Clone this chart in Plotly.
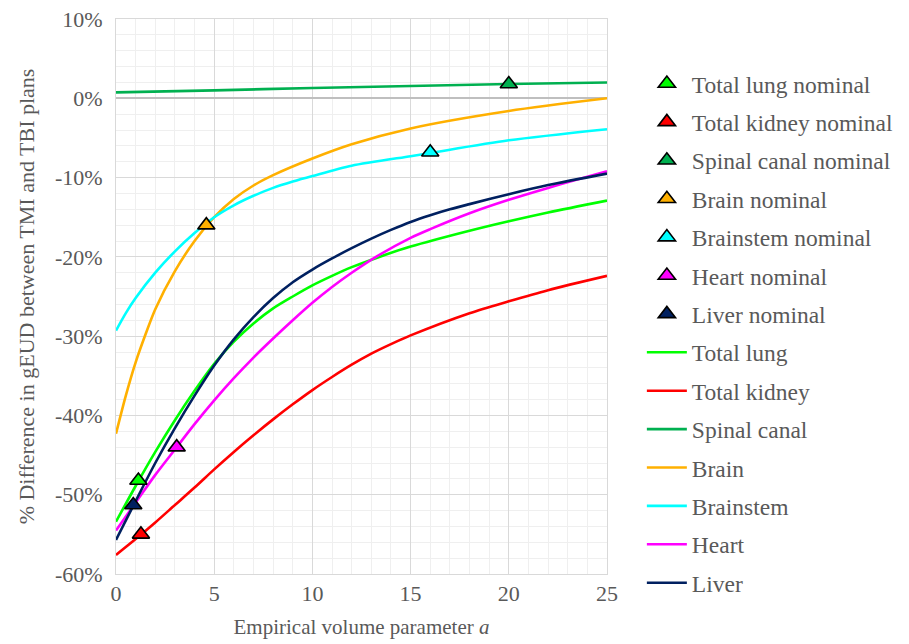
import plotly.graph_objects as go

# ---- data ----
a_lung = [0, 1, 2, 3, 4, 5, 6, 7, 8, 9, 10, 11, 12, 13.3, 15, 18, 20, 22, 25]
lung = [-53.4, -48.9, -44.6, -40.6, -36.9, -33.5, -30.7, -28.4, -26.5, -25.0, -23.6, -22.4, -21.3, -20.1, -18.7, -16.7, -15.5, -14.4, -12.9]

a_kidney = [0, 1, 2, 3, 4, 5, 6, 7, 8, 9, 10, 11, 12, 13, 14, 15, 18, 20, 22, 25]
kidney = [-57.6, -55.6, -53.5, -51.3, -49.1, -46.8, -44.6, -42.5, -40.5, -38.6, -36.8, -35.15, -33.6, -32.2, -31.0, -29.9, -27.1, -25.6, -24.2, -22.4]

a_spinal = [0, 5, 10, 15, 20, 25]
spinal = [0.75, 1.0, 1.3, 1.55, 1.8, 2.0]

a_brain = [0, 0.5, 1, 1.5, 2, 3, 4, 5, 6, 7, 8, 10, 12, 15, 20, 25]
brain = [-42.3, -37.5, -33.3, -29.8, -26.6, -21.8, -18.0, -15.0, -12.7, -11.0, -9.7, -7.6, -5.8, -3.8, -1.6, 0.0]

a_brainstem = [0, 0.5, 1, 2, 3, 4, 5, 6, 7, 8, 9, 10, 12, 15, 16, 20, 25]
brainstem = [-29.3, -27.1, -25.2, -22.0, -19.3, -17.0, -15.0, -13.5, -12.3, -11.3, -10.5, -9.8, -8.5, -7.3, -6.9, -5.3, -3.9]

a_heart = [0, 1, 2, 3, 4, 5, 6, 7, 8, 9, 10, 11, 12, 13.3, 15, 16, 18, 20, 22, 25]
heart = [-54.5, -51.0, -47.5, -44.3, -41.1, -38.1, -35.3, -32.7, -30.3, -28.0, -25.8, -23.8, -22.0, -19.9, -17.6, -16.5, -14.5, -12.8, -11.3, -9.2]

a_liver = [0, 1, 2, 3, 4, 5, 6, 7, 8, 9, 10, 11, 12, 13, 14, 15, 16, 17, 18, 20, 22, 25]
liver = [-55.7, -50.8, -46.0, -41.6, -37.5, -33.7, -30.4, -27.6, -25.2, -23.2, -21.6, -20.2, -18.9, -17.7, -16.6, -15.6, -14.75, -14.0, -13.35, -12.1, -10.95, -9.5]

organs = ["Total lung", "Total kidney", "Spinal canal", "Brain", "Brainstem", "Heart", "Liver"]
nominal_a = [1.14, 1.27, 20.0, 4.6, 16.0, 3.09, 0.88]
nominal_val = [-48.2, -55.0, 1.8, -16.0, -6.8, -44.0, -51.3]

colors = ["#00ff00", "#ff0000", "#00b050", "#ffb000", "#00ffff", "#ff00ff", "#002060"]

y_tickvals = [10, 0, -10, -20, -30, -40, -50, -60]
y_ticktext = ["10%", "0%", "-10%", "-20%", "-30%", "-40%", "-50%", "-60%"]
x_tickvals = [0, 5, 10, 15, 20, 25]

curves = [(a_lung, lung), (a_kidney, kidney), (a_spinal, spinal), (a_brain, brain),
          (a_brainstem, brainstem), (a_heart, heart), (a_liver, liver)]

FONT = "Liberation Serif, Times New Roman, serif"
TXT = "#595959"

fig = go.Figure()

for i, (name, (xs, ys)) in enumerate(zip(organs, curves)):
    fig.add_trace(go.Scatter(
        x=xs, y=ys, mode="lines", name=name, legendgroup=name, legendrank=100 + i,
        line=dict(color=colors[i], width=2.6, shape="spline", smoothing=0.8),
    ))

for i, name in enumerate(organs):
    fig.add_trace(go.Scatter(
        x=[nominal_a[i]], y=[nominal_val[i]], mode="markers", name=name + " nominal",
        legendgroup=name + " nominal", legendrank=i,
        marker=dict(symbol="triangle-up", size=15, color=colors[i],
                    line=dict(color="black", width=1.6)),
    ))

fig.update_layout(
    width=909, height=644,
    margin=dict(l=108, r=310, t=11, b=78),
    paper_bgcolor="white", plot_bgcolor="white",
    font=dict(family=FONT, color=TXT, size=20),
    legend=dict(x=1.071, y=0.923, xanchor="left", yanchor="top",
                font=dict(family=FONT, size=23.5, color=TXT),
                traceorder="grouped", tracegroupgap=4.85,
                bgcolor="rgba(0,0,0,0)", itemwidth=40, maxheight=640),
    showlegend=True,
)

fig.update_xaxes(
    range=[0, 25], tickvals=x_tickvals, showgrid=True, gridcolor="#d9d9d9", gridwidth=1,
    minor=dict(dtick=1, showgrid=True, gridcolor="#efefef", gridwidth=1),
    zeroline=False, showline=True, linecolor="#d9d9d9", mirror=True,
    tickfont=dict(size=22, color=TXT), automargin=False, ticklabeloverflow="allow",
    title=dict(text="Empirical volume parameter <i>a</i>", font=dict(size=21, color=TXT), standoff=13),
    ticks="",
)
fig.update_yaxes(
    range=[-60, 10], tickvals=y_tickvals, ticktext=y_ticktext,
    showgrid=True, gridcolor="#d9d9d9", gridwidth=1,
    minor=dict(dtick=2, showgrid=True, gridcolor="#efefef", gridwidth=1),
    zeroline=True, zerolinecolor="#bfbfbf", zerolinewidth=1.5,
    showline=True, linecolor="#d9d9d9", mirror=True,
    tickfont=dict(size=22, color=TXT), automargin=False, ticklabelstandoff=8,
    ticklabeloverflow="allow",
    title=dict(text="% Difference in gEUD between TMI and TBI plans", font=dict(size=22, color=TXT), standoff=14),
    ticks="",
)

fig.write_html("out.html")
